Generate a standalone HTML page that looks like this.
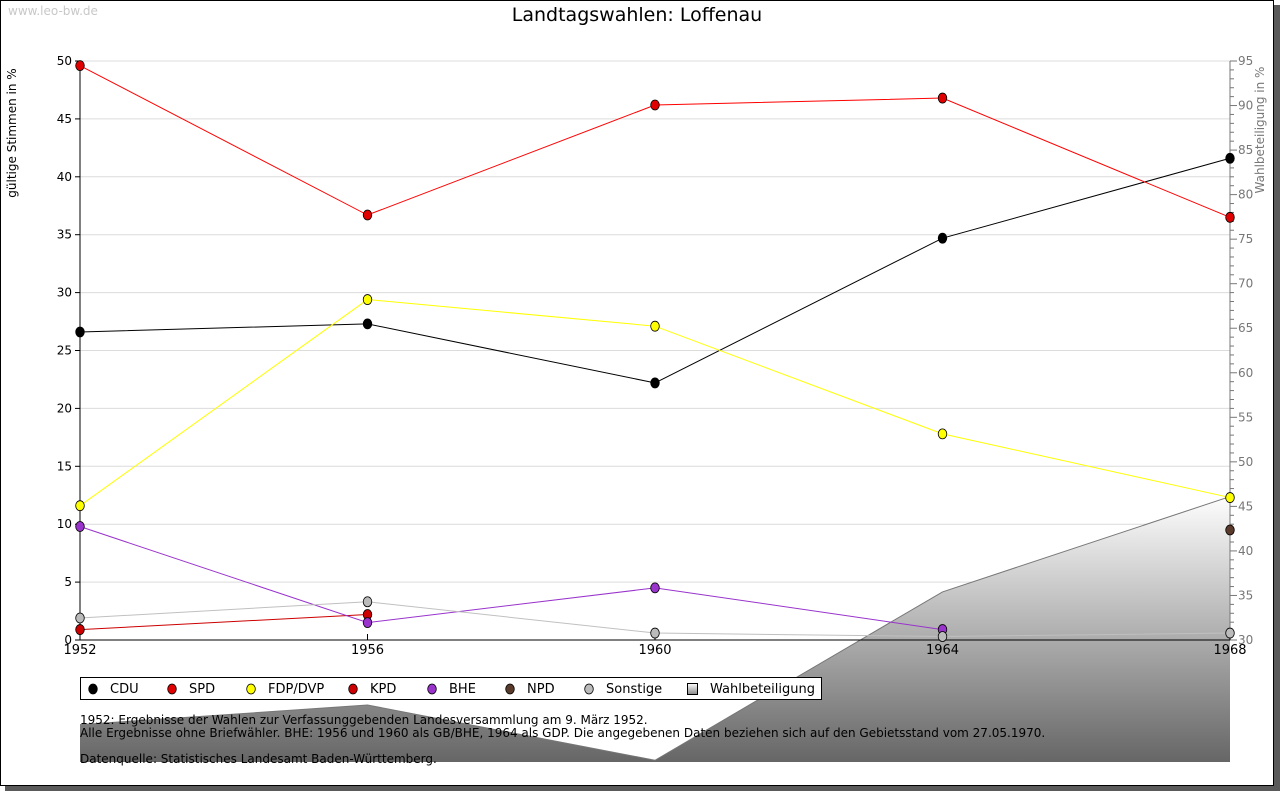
<!DOCTYPE html>
<html><head><meta charset="utf-8"><style>
html,body{margin:0;padding:0;background:#fff}
svg{display:block;font-family:"DejaVu Sans","Liberation Sans",sans-serif}
</style></head><body>
<svg id="chart" width="1280" height="791" viewBox="0 0 1280 791">
<defs>
<linearGradient id="tg" x1="0" y1="494" x2="0" y2="762" gradientUnits="userSpaceOnUse">
<stop offset="0" stop-color="#ffffff"/><stop offset="1" stop-color="#666666"/>
</linearGradient>
<linearGradient id="lg" x1="0" y1="0" x2="0" y2="1">
<stop offset="0" stop-color="#ffffff"/><stop offset="1" stop-color="#888888"/>
</linearGradient>
</defs>
<rect x="5" y="5" width="1275" height="786" fill="#5a5a5a"/>
<rect x="0.5" y="0.5" width="1273" height="785" fill="#fff" stroke="#000"/>
<text x="8" y="15" font-size="12" fill="#c8c8c8">www.leo-bw.de</text>
<text x="637" y="21" font-size="19" text-anchor="middle" fill="#000">Landtagswahlen: Loffenau</text>
<text transform="translate(16,133) rotate(-90)" font-size="12" text-anchor="middle">gültige Stimmen in %</text>
<text transform="translate(1264,130) rotate(-90)" font-size="12" text-anchor="middle" fill="#777">Wahlbeteiligung in %</text>
<g id="grid"></g>
<g id="area"></g>
<g id="axes"></g>
<g id="series"></g>
<g id="legend"></g>
<g font-size="12" fill="#000">
<text x="80" y="724">1952: Ergebnisse der Wahlen zur Verfassunggebenden Landesversammlung am 9. März 1952.</text>
<text x="80" y="737">Alle Ergebnisse ohne Briefwähler. BHE: 1956 und 1960 als GB/BHE, 1964 als GDP. Die angegebenen Daten beziehen sich auf den Gebietsstand vom 27.05.1970.</text>
<text x="80" y="763">Datenquelle: Statistisches Landesamt Baden-Württemberg.</text>
</g>
</svg>
<script>
const years = [1952, 1956, 1960, 1964, 1968];
const cdu = [26.6, 27.3, 22.2, 34.7, 41.6];
const spd = [49.6, 36.7, 46.2, 46.8, 36.5];
const fdp = [11.6, 29.4, 27.1, 17.8, 12.3];
const kpd = [0.9, 2.2, null, null, null];
const bhe = [9.8, 1.5, 4.5, 0.9, null];
const npd = [null, null, null, null, 9.5];
const sonstige = [1.9, 3.3, 0.6, 0.3, 0.6];
const turnout = [20.5, 22.7, 16.5, 35.4, 46.1];
const leftTicks = [0, 5, 10, 15, 20, 25, 30, 35, 40, 45, 50];
const rightTicks = [30, 35, 40, 45, 50, 55, 60, 65, 70, 75, 80, 85, 90, 95];

const NS = "http://www.w3.org/2000/svg";
const X0 = 80, X1 = 1230, YT = 61, YB = 640;
const x = i => X0 + (X1 - X0) * i / (years.length - 1);
const yL = v => YB - (v / 50) * (YB - YT);
const yR = v => YB - ((v - 30) / 65) * (YB - YT);
function mk(tag, attrs, parent) {
  const e = document.createElementNS(NS, tag);
  for (const k in attrs) e.setAttribute(k, attrs[k]);
  parent.appendChild(e);
  return e;
}
const grid = document.getElementById('grid');
const axes = document.getElementById('axes');
const area = document.getElementById('area');
const series = document.getElementById('series');
const legend = document.getElementById('legend');

leftTicks.forEach(t => {
  const l = mk('line', {x1: X0, x2: X1, y1: yL(t), y2: yL(t), stroke: '#dcdcdc'}, grid);
  
  
  const tk = mk('line', {x1: X0 - 5, x2: X0, y1: yL(t), y2: yL(t), stroke: '#000'}, axes);
  
  
  const tx = mk('text', {x: X0 - 8, y: yL(t) + 4, 'font-size': 12, 'text-anchor': 'end'}, axes);
  tx.textContent = t;
  
  
});
for (let v = 30; v <= 95; v++) {
  const major = v % 5 === 0;
  const tk = mk('line', {x1: X1, x2: X1 + (major ? 7 : 4), y1: yR(v), y2: yR(v), stroke: '#777'}, axes);
  
  
}
rightTicks.forEach(t => {
  const tx = mk('text', {x: X1 + 8, y: yR(t) + 4, 'font-size': 12, fill: '#777'}, axes);
  tx.textContent = t;
  
  
});

let pts = years.map((y, i) => x(i) + ',' + yR(turnout[i])).join(' ');
const poly = mk('polygon', {points: X0 + ',762 ' + pts + ' ' + X1 + ',762', fill: 'url(#tg)'}, area);


const pl = mk('polyline', {points: pts, fill: 'none', stroke: '#777'}, area);



const vl = mk('line', {x1: X0, x2: X0, y1: YT, y2: YB, stroke: '#000'}, axes);


const rl = mk('line', {x1: X1, x2: X1, y1: YT, y2: YB, stroke: '#777'}, axes);


const bl = mk('line', {x1: X0, x2: X1, y1: YB, y2: YB, stroke: '#000'}, axes);


years.forEach((yr, i) => {
  const tk = mk('line', {x1: x(i), x2: x(i), y1: YB, y2: YB - 6, stroke: '#000'}, axes);
  
  
  const tx = mk('text', {x: x(i), y: YB + 14, 'font-size': 13, 'text-anchor': 'middle'}, axes);
  tx.textContent = yr;
  
  
});

const defs = [
  ['cdu', cdu, '#000', '#000'],
  ['spd', spd, '#ff0000', '#e00000'],
  ['fdp', fdp, '#ffff00', '#ffff00'],
  ['kpd', kpd, '#cc0000', '#cc0000'],
  ['bhe', bhe, '#9933cc', '#9933cc'],
  ['npd', npd, '#5a3a2a', '#5a3a2a'],
  ['sonstige', sonstige, '#c0c0c0', '#bbbbbb']
];
function marker(cx, cy, fill, parent, name) {
  const d = mk('ellipse', {cx: cx, cy: cy, rx: 4.3, ry: 5, fill: fill, stroke: '#000', 'stroke-width': 0.8}, parent);
  
  
}
defs.forEach(([name, vals, line, fill]) => {
  const g = mk('g', {}, series);
  
  
  let seg = [];
  vals.forEach((v, i) => { if (v !== null) seg.push(x(i) + ',' + yL(v)); });
  if (seg.length > 1) {
    const p = mk('polyline', {points: seg.join(' '), fill: 'none', stroke: line, 'stroke-width': 1}, g);
    
    
  }
  vals.forEach((v, i) => { if (v !== null) marker(x(i), yL(v), fill, g, name + '-point'); });
});

const lgp = mk('g', {}, legend);


const lbg = mk('rect', {x: 80.5, y: 677.5, width: 741, height: 22, fill: '#fff', stroke: '#000'}, lgp);


const items = [['CDU', '#000', 93], ['SPD', '#e00000', 172], ['FDP/DVP', '#ffff00', 251], ['KPD', '#cc0000', 353], ['BHE', '#9933cc', 432], ['NPD', '#5a3a2a', 510], ['Sonstige', '#bbbbbb', 589]];
items.forEach(([lab, col, lx]) => {
  const e = mk('g', {}, lgp);
  
  
  marker(lx, 689, col, e, 'legend-marker');
  const t = mk('text', {x: lx + 17, y: 693, 'font-size': 13}, e);
  t.textContent = lab;
});
const te = mk('g', {}, lgp);


mk('rect', {x: 687.5, y: 683.5, width: 10, height: 11, fill: 'url(#lg)', stroke: '#000'}, te);
const tt = mk('text', {x: 710, y: 693, 'font-size': 13}, te);
tt.textContent = 'Wahlbeteiligung';
</script>
</body></html>
